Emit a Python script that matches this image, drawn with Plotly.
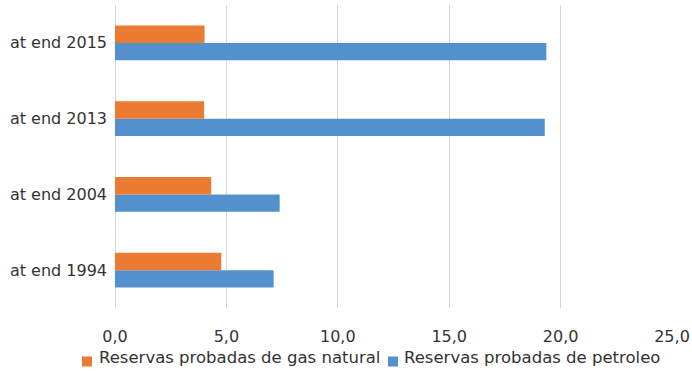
import plotly.graph_objects as go

# Reserves by year (bottom-to-top order on the category axis)
years = ["at end 1994", "at end 2004", "at end 2013", "at end 2015"]
gas_natural = [4.77, 4.32, 4.00, 4.02]
petroleo = [7.12, 7.39, 19.29, 19.36]
x_ticks = [0, 5, 10, 15, 20, 25]
series_names = ["Reservas probadas de gas natural", "Reservas probadas de petroleo"]

ORANGE = "#EB7B33"
BLUE = "#5291CE"
TEXT = "#333333"
FONT = "DejaVu Sans, Arial, sans-serif"

W, H = 692, 371
ML, MR, MT, MB = 115, 20, 5, 63
PW, PH = W - ML - MR, H - MT - MB


def px_x(p):
    """Pixel column -> paper x."""
    return (p - ML) / PW


def px_y(p):
    """Pixel row -> paper y."""
    return (H - MB - p) / PH


fig = go.Figure()
# Petroleum first so it sits below the gas bar inside each group
fig.add_trace(go.Bar(
    y=years, x=petroleo, orientation="h",
    name=series_names[1],
    marker=dict(color=BLUE, line=dict(width=0)),
))
fig.add_trace(go.Bar(
    y=years, x=gas_natural, orientation="h",
    name=series_names[0],
    marker=dict(color=ORANGE, line=dict(width=0)),
))

# Compact legend below the axis: small square swatch tight against its label
legend_items = [
    (series_names[0], ORANGE, 82, 97),
    (series_names[1], BLUE, 388, 402),
]
shapes, annotations = [], []
for label, color, sq_left, text_left in legend_items:
    shapes.append(dict(
        type="rect", xref="paper", yref="paper",
        x0=px_x(sq_left), x1=px_x(sq_left + 10),
        y0=px_y(366.5), y1=px_y(356.5),
        fillcolor=color, line=dict(width=0), layer="above",
    ))
    annotations.append(dict(
        text=label, xref="paper", yref="paper",
        x=px_x(text_left), y=px_y(357.5),
        xanchor="left", yanchor="middle", showarrow=False,
        font=dict(family=FONT, size=16.5, color=TEXT),
    ))

fig.update_layout(
    width=W, height=H,
    margin=dict(l=ML, r=MR, t=MT, b=MB, autoexpand=False),
    paper_bgcolor="white", plot_bgcolor="white",
    barmode="group", bargap=0.54, bargroupgap=0,
    separators=",.",
    font=dict(family=FONT, size=16, color=TEXT),
    showlegend=False,
    shapes=shapes,
    annotations=annotations,
    xaxis=dict(
        range=[0, 25], tickvals=x_ticks, tickformat=".1f",
        showgrid=True, gridcolor="#D9D9D9", gridwidth=1,
        zeroline=True, zerolinecolor="#D9D9D9", zerolinewidth=1,
        showline=False, ticks="", ticklabelstandoff=17,
        fixedrange=True,
    ),
    yaxis=dict(
        categoryorder="array", categoryarray=years,
        showgrid=False, zeroline=False, showline=False,
        ticks="", ticklabelstandoff=7,
    ),
)

fig.write_html("out.html")
